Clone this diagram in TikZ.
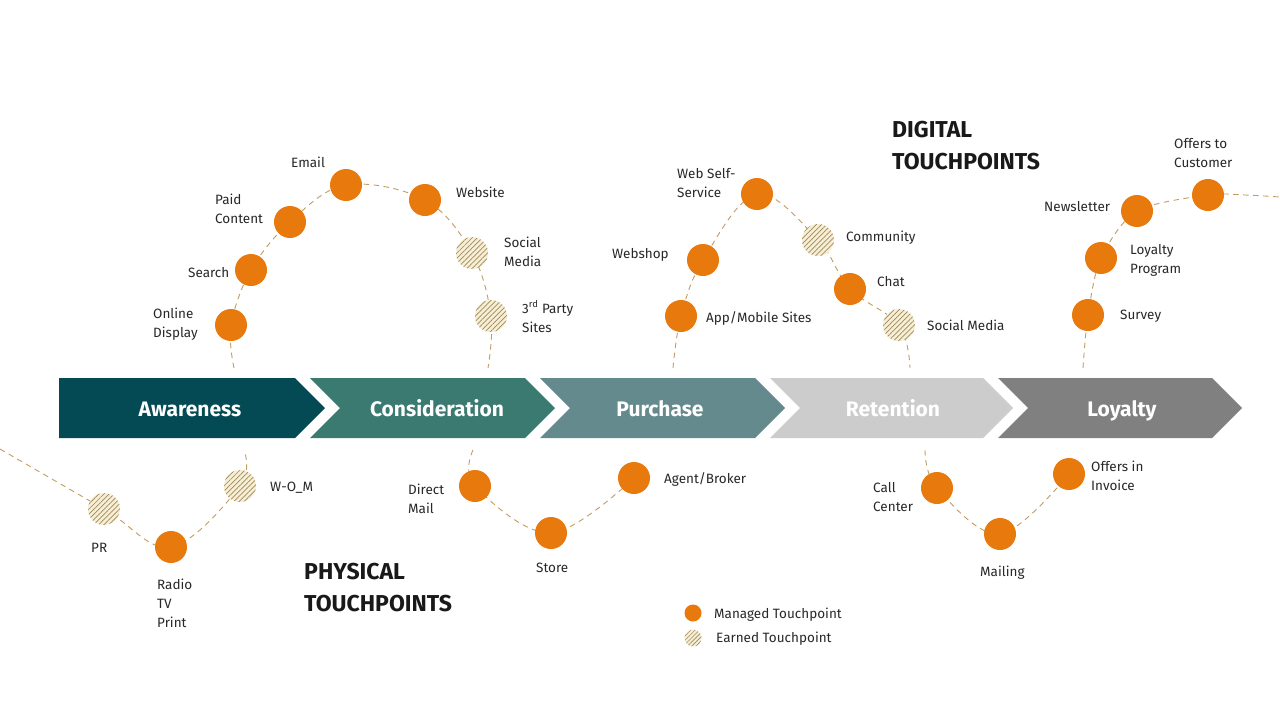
\documentclass[tikz,border=0pt]{standalone}
\usepackage{fontspec}
\setmainfont{Fira Sans}
\usetikzlibrary{patterns.meta,backgrounds}
\definecolor{tporange}{RGB}{232,121,12}
\definecolor{hatchbg}{RGB}{246,238,214}
\definecolor{hatchln}{RGB}{160,136,84}
\definecolor{dashcol}{RGB}{196,156,96}
\definecolor{txt}{RGB}{40,40,40}
\definecolor{stA}{RGB}{3,74,84}
\definecolor{stB}{RGB}{58,122,112}
\definecolor{stC}{RGB}{100,138,141}
\definecolor{stD}{RGB}{204,204,204}
\definecolor{stE}{RGB}{128,128,128}
\begin{document}
\begin{tikzpicture}[x=1pt,y=-1pt,
  managed/.style={circle,fill=tporange,minimum size=32pt,inner sep=0pt},
  earned/.style={circle,minimum size=32pt,inner sep=0pt,preaction={fill=hatchbg},
    pattern={Lines[angle=45,distance=3.6pt,line width=0.7pt]},pattern color=hatchln},
  lbl/.style={anchor=west,align=left,font=\fontsize{13.5}{19}\selectfont,text=txt,inner sep=0pt},
  journey/.style={draw=dashcol,line width=0.9pt,dash pattern=on 5.5pt off 4.5pt},
  stagelbl/.style={font=\fontsize{21}{24}\selectfont\bfseries,text=white,text height=19pt,text depth=5pt,inner sep=0pt},
  head/.style={anchor=west,align=left,font=\fontsize{23}{32}\selectfont\bfseries,text=black!90,inner sep=0pt}]
\useasboundingbox (0,0) rectangle (1280,710);

% stages
\fill[stA] (59,378) -- (295,378) -- (325,408) -- (295,438) -- (59,438) -- cycle;
\fill[stB] (310,378) -- (525,378) -- (555,408) -- (525,438) -- (310,438) -- (340,408) -- cycle;
\fill[stC] (540,378) -- (755,378) -- (785,408) -- (755,438) -- (540,438) -- (570,408) -- cycle;
\fill[stD] (770,378) -- (983,378) -- (1013,408) -- (983,438) -- (770,438) -- (800,408) -- cycle;
\fill[stE] (998,378) -- (1212,378) -- (1242,408) -- (1212,438) -- (998,438) -- (1028,408) -- cycle;
\node[stagelbl] (sA) at (190,409) {Awareness};
\node[stagelbl] (sB) at (437,409) {Consideration};
\node[stagelbl] (sC) at (660,409) {Purchase};
\node[stagelbl] (sD) at (893,409) {Retention};
\node[stagelbl] (sE) at (1122,409) {Loyalty};

% curve end points
\coordinate (a0) at (234,368);
\coordinate (a9) at (488,368);
\coordinate (b0) at (673,368);
\coordinate (b9) at (910,368);
\coordinate (c0) at (1083,368);
\coordinate (c8) at (1245,195);
\coordinate (c9) at (1280,197);
\coordinate (p0) at (0,449);
\coordinate (p9) at (244,450);
\coordinate (q0) at (473,450);
\coordinate (r0) at (925,450);

% digital touchpoints
\node[managed] (od) at (231,325) {};
\node[managed] (se) at (251,270) {};
\node[managed] (pc) at (290,222) {};
\node[managed] (em) at (346,185) {};
\node[managed] (ws) at (425,200) {};
\node[earned] (sm) at (472,253) {};
\node[earned] (tp) at (491,316) {};
\node[managed] (wb) at (703,260) {};
\node[managed] (am) at (681,316) {};
\node[managed] (wss) at (757,194) {};
\node[earned] (cm) at (818,240) {};
\node[managed] (ch) at (850,289) {};
\node[earned] (sm2) at (899,325) {};
\node[managed] (sv) at (1088,315) {};
\node[managed] (lp) at (1101,258) {};
\node[managed] (nl) at (1137,211) {};
\node[managed] (oc) at (1208,195) {};

% physical touchpoints
\node[earned] (pr) at (104,509) {};
\node[managed] (rtp) at (171,547) {};
\node[earned] (wom) at (240,486) {};
\node[managed] (dm) at (475,486) {};
\node[managed] (st) at (551,533) {};
\node[managed] (ab) at (634,478) {};
\node[managed] (cc) at (937,488) {};
\node[managed] (ml) at (1000,534) {};
\node[managed] (oi) at (1069,474) {};

\begin{pgfonlayer}{background}
\fill[white] (0,0) rectangle (1280,710);
\draw[journey] plot[smooth,tension=0.6] coordinates {(a0) (od) (se) (pc) (em) (ws) (sm) (tp) (a9)};
\draw[journey] plot[smooth,tension=0.6] coordinates {(b0) (am) (wb) (wss) (cm) (ch) (sm2) (b9)};
\draw[journey] plot[smooth,tension=0.5] coordinates {(c0) (sv) (lp) (nl) (oc) (c8) (c9)};
\draw[journey] plot[smooth,tension=0.6] coordinates {(p0) (pr) (rtp) (wom) (p9)};
\draw[journey] plot[smooth,tension=0.6] coordinates {(q0) (dm) (st) (ab)};
\draw[journey] plot[smooth,tension=0.6] coordinates {(r0) (cc) (ml) (oi)};
\end{pgfonlayer}

% labels
\node[lbl] (l1) at (153,324.5) {Online\\Display};
\node[lbl] (l2) at (188,273) {Search};
\node[lbl] (l3) at (215,208.5) {Paid\\Content};
\node[lbl] (l4) at (291,162) {Email};
\node[lbl] (l5) at (456,192) {Website};
\node[lbl] (l6) at (504,251.5) {Social\\Media};
\node[lbl] (l7) at (522,316.5) {3\textsuperscript{rd} Party\\Sites};
\node[lbl] (l8) at (612,255) {Webshop};
\node[lbl] (l9) at (706,318) {App/Mobile Sites};
\node[lbl] (l10) at (677,183.5) {Web Self-\\Service};
\node[lbl] (l11) at (846,238) {Community};
\node[lbl] (l12) at (877,282) {Chat};
\node[lbl] (l13) at (927,325) {Social Media};
\node[lbl] (l14) at (1120,316) {Survey};
\node[lbl] (l15) at (1130,260.5) {Loyalty\\Program};
\node[lbl] (l16) at (1044,207) {Newsletter};
\node[lbl] (l17) at (1174,153.5) {Offers to\\Customer};
\node[lbl] (l18) at (91,548) {PR};
\node[lbl] (l19) at (157,603) {Radio\\TV\\Print};
\node[lbl] (l20) at (270,488) {W-O\_M};
\node[lbl] (l21) at (408,498.5) {Direct\\Mail};
\node[lbl] (l22) at (536,568) {Store};
\node[lbl] (l23) at (664,479) {Agent/Broker};
\node[lbl] (l24) at (873,497.5) {Call\\Center};
\node[lbl] (l25) at (980,573) {Mailing};
\node[lbl] (l26) at (1091,475.5) {Offers in\\Invoice};

% headings
\node[head] (hd) at (892,146) {DIGITAL\\TOUCHPOINTS};
\node[head] (hp) at (304,588) {PHYSICAL\\TOUCHPOINTS};

% legend
\node[managed,minimum size=17pt] (lgm) at (693,613) {};
\node[earned,minimum size=17pt,pattern={Lines[angle=45,distance=3pt,line width=0.6pt]}] (lge) at (693,638) {};
\node[lbl] (lgmt) at (714,615) {Managed Touchpoint};
\node[lbl] (lget) at (716,639) {Earned Touchpoint};
\end{tikzpicture}
\end{document}
